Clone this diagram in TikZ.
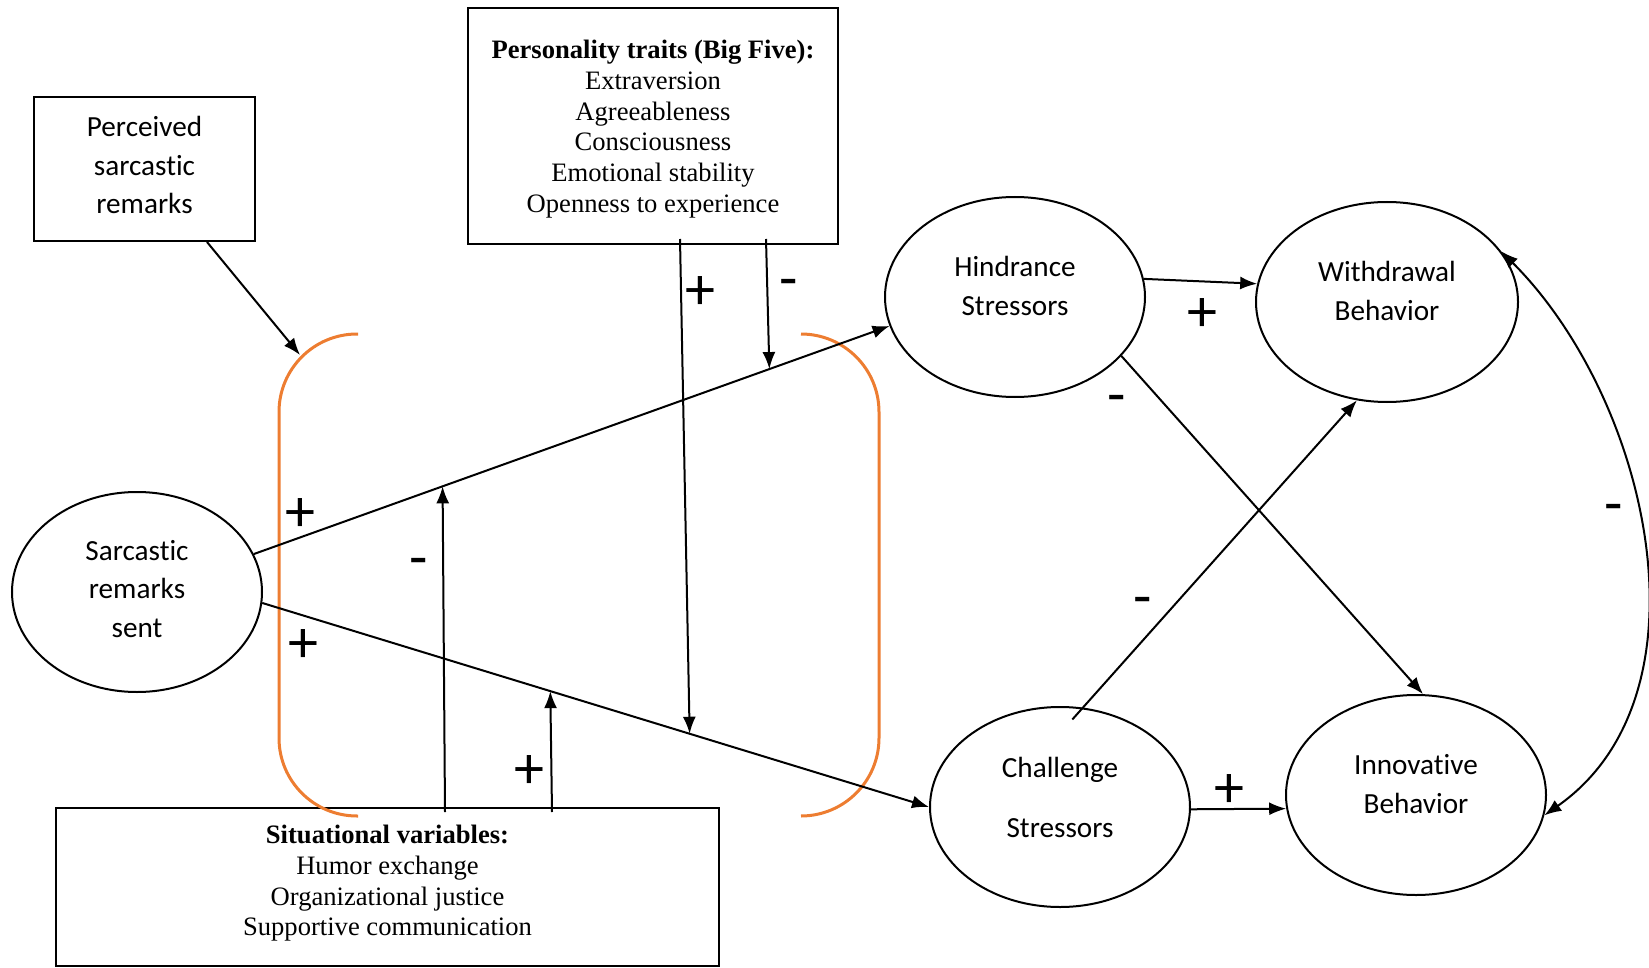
\documentclass[tikz,border=0pt]{standalone}
\usepackage{fontspec}
\setmainfont{Liberation Serif}
\newfontfamily\calibri[Ligatures=NoCommon]{Carlito}
\usetikzlibrary{shapes.geometric,arrows.meta,calc}
\definecolor{brkorange}{HTML}{ED7D31}

\begin{document}
\begin{tikzpicture}[x=0.5pt,y=-0.5pt,
        box/.style={draw,line width=1pt},
        ell/.style={draw,ellipse,line width=1pt,inner sep=0pt,minimum height=100pt},
        sanstext/.style={font=\calibri\fontsize{14.6}{19.4}\selectfont,align=center,inner sep=0pt},
        seriftext/.style={font=\fontsize{13.3}{15.35}\selectfont,align=center,inner sep=0pt},
        sign/.style={font=\calibri\fontsize{30}{30}\selectfont,inner sep=0pt},
        arr/.style={line width=1pt,-{Latex[length=8.5pt,width=6.5pt]}},
        brk/.style={draw=brkorange,line width=1.5pt,rounded corners=39pt}]

    \useasboundingbox (0,0) rectangle (1649,968);

    % boxes
    \node[box,minimum width=110.5pt,minimum height=72pt] (perc) at (144.5,169) {};
    \node[sanstext] (perctxt) at ([yshift=2pt]perc.center) {Perceived\\sarcastic\\remarks};
    \node[box,minimum width=185pt,minimum height=118pt] (pers) at (653,126) {};
    \node[seriftext] (perstxt) at ([yshift=-1.5pt]pers.center)
        {\textbf{Personality traits (Big Five):}\\Extraversion\\Agreeableness\\Consciousness\\Emotional stability\\Openness to experience};
    \node[box,minimum width=331.5pt,minimum height=79pt] (situ) at (387.5,887) {};
    \node[seriftext] (situtxt) at ([yshift=1.8pt]situ.center)
        {\textbf{Situational variables:}\\Humor exchange\\Organizational justice\\Supportive communication};

    % ellipses
    \node[ell,minimum width=125pt] (sarc) at (137,592) {};
    \node[sanstext] (sarctxt) at ([yshift=1.5pt]sarc.center) {Sarcastic\\remarks\\sent};
    \node[ell,minimum width=130pt] (hind) at (1015,297) {};
    \node[sanstext] (hindtxt) at ([yshift=5.5pt]hind.center) {Hindrance\\Stressors};
    \node[ell,minimum width=131pt] (with) at (1387,302) {};
    \node[sanstext] (withtxt) at ([yshift=5.5pt]with.center) {Withdrawal\\Behavior};
    \node[ell,minimum width=130pt] (chal) at (1060,807) {};
    \node[sanstext] (chaltxt) at ([yshift=5pt]chal.center) {Challenge\\[10.6pt]Stressors};
    \node[ell,minimum width=130pt] (innov) at (1416,795) {};
    \node[sanstext] (innovtxt) at ([yshift=5.5pt]innov.center) {Innovative\\Behavior};

    % orange brackets
    \draw[brk] (358,334) -| (279,816) -- (358,816);
    \draw[brk] (801,334) -| (879,816) -- (801,816);
    \coordinate (brktip) at (300,355);

    % main paths
    \draw[arr] ([xshift=31.25pt]perc.south) -- (brktip);
    \draw[arr] (sarc.18) -- (hind.193);
    \draw[arr] (sarc.-5) -- (chal.west);

    \coordinate (hup)  at ($(sarc.18)!0.297!(hind.193)$);
    \coordinate (pup)  at ($(sarc.18)!0.811!(hind.193)$);
    \coordinate (clow) at ($(sarc.-5)!0.432!(chal.west)$);
    \coordinate (plow) at ($(sarc.-5)!0.641!(chal.west)$);

    % moderators
    \draw[arr] ([xshift=13.5pt,yshift=3pt]pers.south) -- (plow);
    \draw[arr] ([xshift=56.5pt,yshift=3pt]pers.south) -- (pup);
    \draw[arr] ([xshift=28.75pt,yshift=-2.5pt]situ.north) -- (hup);
    \draw[arr] ([xshift=82.25pt,yshift=-2.5pt]situ.north) -- (clow);

    % outcomes
    \draw[arr] (hind.8) -- (with.172);
    \draw[arr] (hind.-29) -- (innov.86);
    \draw[arr] ([yshift=-6.5pt]chal.83) -- (with.253);
    \draw[arr] (chal.-1) -- (innov.186);
    \draw[line width=1pt,{Latex[length=8.5pt,width=6.5pt]}-{Latex[length=8.5pt,width=6.5pt]}]
        (with.24) to[out=-45,in=35,looseness=0.95] (innov.-9);

    % signs
    \node[sign] (s1) at (300,515) {+};
    \node[sign] (s2) at (303,646) {+};
    \node[sign] (s3) at (419,568) {-};
    \node[sign] (s4) at (529,772) {+};
    \node[sign] (s5) at (700,293) {+};
    \node[sign] (s6) at (789,289) {-};
    \node[sign] (s7) at (1202,315) {+};
    \node[sign] (s8) at (1117,405) {-};
    \node[sign] (s9) at (1143,607) {-};
    \node[sign] (s10) at (1229,791) {+};
    \node[sign] (s11) at (1614,514) {-};
\end{tikzpicture}
\end{document}
